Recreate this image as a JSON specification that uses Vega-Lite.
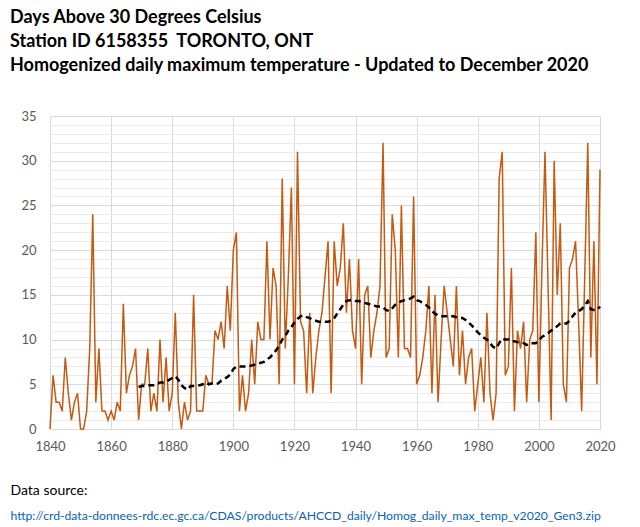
{
  "$schema": "https://vega.github.io/schema/vega-lite/v6.json",
  "width": 550,
  "height": 313,
  "autosize": {"type": "none"},
  "padding": {"left": 50, "top": 116, "right": 40, "bottom": 98},
  "background": "white",
  "config": {"view": {"stroke": "#d9d9d9"}, "font": "Lato"},
  "title": {
    "text": ["Days Above 30 Degrees Celsius", "Station ID 6158355\u00a0\u00a0TORONTO, ONT", "Homogenized daily maximum temperature - Updated to December 2020"],
    "anchor": "start",
    "frame": "group",
    "dx": -40,
    "offset": 35,
    "font": "Lato",
    "fontSize": 18,
    "fontWeight": "bold",
    "lineHeight": 24,
    "color": "#000000"
  },
  "data": {"values": [
    {"year": 1840, "days": 0, "ma": null}, {"year": 1841, "days": 6, "ma": null}, {"year": 1842, "days": 3, "ma": null}, {"year": 1843, "days": 3, "ma": null}, {"year": 1844, "days": 2, "ma": null},
    {"year": 1845, "days": 8, "ma": null}, {"year": 1846, "days": 4, "ma": null}, {"year": 1847, "days": 1, "ma": null}, {"year": 1848, "days": 3, "ma": null}, {"year": 1849, "days": 4, "ma": null},
    {"year": 1850, "days": 0, "ma": null}, {"year": 1851, "days": 0, "ma": null}, {"year": 1852, "days": 2, "ma": null}, {"year": 1853, "days": 9, "ma": null}, {"year": 1854, "days": 24, "ma": null},
    {"year": 1855, "days": 3, "ma": null}, {"year": 1856, "days": 9, "ma": null}, {"year": 1857, "days": 2, "ma": null}, {"year": 1858, "days": 2, "ma": null}, {"year": 1859, "days": 1, "ma": null},
    {"year": 1860, "days": 2, "ma": null}, {"year": 1861, "days": 1, "ma": null}, {"year": 1862, "days": 3, "ma": null}, {"year": 1863, "days": 2, "ma": null}, {"year": 1864, "days": 14, "ma": null},
    {"year": 1865, "days": 4, "ma": null}, {"year": 1866, "days": 6, "ma": null}, {"year": 1867, "days": 7, "ma": null}, {"year": 1868, "days": 9, "ma": null}, {"year": 1869, "days": 1, "ma": 4.7},
    {"year": 1870, "days": 5, "ma": 4.8}, {"year": 1871, "days": 5, "ma": 4.8}, {"year": 1872, "days": 9, "ma": 4.9}, {"year": 1873, "days": 2, "ma": 4.9}, {"year": 1874, "days": 4, "ma": 4.9},
    {"year": 1875, "days": 2, "ma": 5.0}, {"year": 1876, "days": 10, "ma": 5.2}, {"year": 1877, "days": 3, "ma": 5.2}, {"year": 1878, "days": 8, "ma": 5.3}, {"year": 1879, "days": 2, "ma": 5.5},
    {"year": 1880, "days": 4, "ma": 5.7}, {"year": 1881, "days": 13, "ma": 5.9}, {"year": 1882, "days": 3, "ma": 5.5}, {"year": 1883, "days": 0, "ma": 4.9}, {"year": 1884, "days": 3, "ma": 4.6},
    {"year": 1885, "days": 1, "ma": 4.4}, {"year": 1886, "days": 2, "ma": 4.8}, {"year": 1887, "days": 15, "ma": 4.8}, {"year": 1888, "days": 2, "ma": 4.8}, {"year": 1889, "days": 2, "ma": 4.9},
    {"year": 1890, "days": 2, "ma": 5.0}, {"year": 1891, "days": 6, "ma": 5.2}, {"year": 1892, "days": 5, "ma": 5.0}, {"year": 1893, "days": 5, "ma": 5.1}, {"year": 1894, "days": 11, "ma": 5.0},
    {"year": 1895, "days": 10, "ma": 5.1}, {"year": 1896, "days": 12, "ma": 5.4}, {"year": 1897, "days": 9, "ma": 5.6}, {"year": 1898, "days": 16, "ma": 5.8}, {"year": 1899, "days": 11, "ma": 6.1},
    {"year": 1900, "days": 20, "ma": 6.7}, {"year": 1901, "days": 22, "ma": 7.0}, {"year": 1902, "days": 2, "ma": 7.0}, {"year": 1903, "days": 6, "ma": 7.0}, {"year": 1904, "days": 2, "ma": 7.0},
    {"year": 1905, "days": 4, "ma": 7.0}, {"year": 1906, "days": 10, "ma": 7.1}, {"year": 1907, "days": 5, "ma": 7.2}, {"year": 1908, "days": 12, "ma": 7.3}, {"year": 1909, "days": 10, "ma": 7.4},
    {"year": 1910, "days": 10, "ma": 7.5}, {"year": 1911, "days": 21, "ma": 7.8}, {"year": 1912, "days": 10, "ma": 8.0}, {"year": 1913, "days": 18, "ma": 8.4}, {"year": 1914, "days": 16, "ma": 8.8},
    {"year": 1915, "days": 5, "ma": 9.3}, {"year": 1916, "days": 28, "ma": 10.0}, {"year": 1917, "days": 9, "ma": 10.4}, {"year": 1918, "days": 17, "ma": 11.0}, {"year": 1919, "days": 27, "ma": 11.4},
    {"year": 1920, "days": 5, "ma": 11.9}, {"year": 1921, "days": 31, "ma": 12.3}, {"year": 1922, "days": 12, "ma": 12.6}, {"year": 1923, "days": 11, "ma": 12.7}, {"year": 1924, "days": 4, "ma": 12.5},
    {"year": 1925, "days": 13, "ma": 12.4}, {"year": 1926, "days": 4, "ma": 12.2}, {"year": 1927, "days": 8, "ma": 12.1}, {"year": 1928, "days": 11, "ma": 12.0}, {"year": 1929, "days": 13, "ma": 12.0},
    {"year": 1930, "days": 17, "ma": 12.0}, {"year": 1931, "days": 21, "ma": 12.0}, {"year": 1932, "days": 4, "ma": 12.1}, {"year": 1933, "days": 21, "ma": 12.4}, {"year": 1934, "days": 16, "ma": 12.9},
    {"year": 1935, "days": 18, "ma": 13.4}, {"year": 1936, "days": 23, "ma": 13.9}, {"year": 1937, "days": 13, "ma": 14.3}, {"year": 1938, "days": 19, "ma": 14.4}, {"year": 1939, "days": 11, "ma": 14.4},
    {"year": 1940, "days": 9, "ma": 14.3}, {"year": 1941, "days": 19, "ma": 14.3}, {"year": 1942, "days": 5, "ma": 14.2}, {"year": 1943, "days": 15, "ma": 14.1}, {"year": 1944, "days": 16, "ma": 14.0},
    {"year": 1945, "days": 8, "ma": 13.9}, {"year": 1946, "days": 11, "ma": 13.8}, {"year": 1947, "days": 13, "ma": 13.7}, {"year": 1948, "days": 16, "ma": 13.7}, {"year": 1949, "days": 32, "ma": 13.6},
    {"year": 1950, "days": 8, "ma": 13.3}, {"year": 1951, "days": 9, "ma": 13.2}, {"year": 1952, "days": 24, "ma": 13.5}, {"year": 1953, "days": 20, "ma": 13.9}, {"year": 1954, "days": 8, "ma": 14.1},
    {"year": 1955, "days": 25, "ma": 14.3}, {"year": 1956, "days": 9, "ma": 14.4}, {"year": 1957, "days": 9, "ma": 14.5}, {"year": 1958, "days": 8, "ma": 14.6}, {"year": 1959, "days": 26, "ma": 14.8},
    {"year": 1960, "days": 5, "ma": 14.4}, {"year": 1961, "days": 6, "ma": 14.3}, {"year": 1962, "days": 8, "ma": 14.1}, {"year": 1963, "days": 11, "ma": 13.9}, {"year": 1964, "days": 16, "ma": 13.6},
    {"year": 1965, "days": 4, "ma": 13.2}, {"year": 1966, "days": 15, "ma": 12.9}, {"year": 1967, "days": 3, "ma": 12.7}, {"year": 1968, "days": 10, "ma": 12.6}, {"year": 1969, "days": 16, "ma": 12.6},
    {"year": 1970, "days": 13, "ma": 12.6}, {"year": 1971, "days": 10, "ma": 12.6}, {"year": 1972, "days": 7, "ma": 12.6}, {"year": 1973, "days": 16, "ma": 12.5}, {"year": 1974, "days": 6, "ma": 12.4},
    {"year": 1975, "days": 11, "ma": 12.4}, {"year": 1976, "days": 5, "ma": 12.2}, {"year": 1977, "days": 8, "ma": 11.9}, {"year": 1978, "days": 9, "ma": 11.6}, {"year": 1979, "days": 2, "ma": 11.2},
    {"year": 1980, "days": 5, "ma": 10.8}, {"year": 1981, "days": 8, "ma": 10.5}, {"year": 1982, "days": 3, "ma": 10.2}, {"year": 1983, "days": 13, "ma": 10.0}, {"year": 1984, "days": 4, "ma": 9.6},
    {"year": 1985, "days": 1, "ma": 9.2}, {"year": 1986, "days": 4, "ma": 9.0}, {"year": 1987, "days": 28, "ma": 9.6}, {"year": 1988, "days": 31, "ma": 10.1}, {"year": 1989, "days": 6, "ma": 10.0},
    {"year": 1990, "days": 7, "ma": 10.0}, {"year": 1991, "days": 18, "ma": 9.8}, {"year": 1992, "days": 2, "ma": 9.8}, {"year": 1993, "days": 11, "ma": 9.7}, {"year": 1994, "days": 9, "ma": 9.7},
    {"year": 1995, "days": 12, "ma": 9.6}, {"year": 1996, "days": 3, "ma": 9.4}, {"year": 1997, "days": 10, "ma": 9.6}, {"year": 1998, "days": 11, "ma": 9.6}, {"year": 1999, "days": 22, "ma": 9.6},
    {"year": 2000, "days": 3, "ma": 9.9}, {"year": 2001, "days": 18, "ma": 10.3}, {"year": 2002, "days": 31, "ma": 10.5}, {"year": 2003, "days": 16, "ma": 10.7}, {"year": 2004, "days": 1, "ma": 11.0},
    {"year": 2005, "days": 30, "ma": 11.2}, {"year": 2006, "days": 15, "ma": 11.5}, {"year": 2007, "days": 23, "ma": 11.8}, {"year": 2008, "days": 5, "ma": 11.8}, {"year": 2009, "days": 3, "ma": 11.8},
    {"year": 2010, "days": 18, "ma": 12.1}, {"year": 2011, "days": 19, "ma": 12.6}, {"year": 2012, "days": 21, "ma": 13.0}, {"year": 2013, "days": 12, "ma": 13.2}, {"year": 2014, "days": 2, "ma": 13.4},
    {"year": 2015, "days": 17, "ma": 13.8}, {"year": 2016, "days": 32, "ma": 14.3}, {"year": 2017, "days": 8, "ma": 13.4}, {"year": 2018, "days": 21, "ma": 13.3}, {"year": 2019, "days": 5, "ma": 13.3},
    {"year": 2020, "days": 29, "ma": 13.7}
  ]},
  "resolve": {"axis": {"y": "independent"}},
  "layer": [
    {
      "mark": {"type": "line", "color": "#C55A11", "strokeWidth": 1.5},
      "encoding": {
        "x": {
          "field": "year", "type": "quantitative",
          "scale": {"domain": [1840, 2020], "nice": false, "zero": false},
          "axis": {
            "values": [1840, 1860, 1880, 1900, 1920, 1940, 1960, 1980, 2000, 2020],
            "format": "d",
            "labelFlush": false,
            "grid": true, "gridColor": "#d9d9d9",
            "domain": true, "domainColor": "#d9d9d9",
            "ticks": false,
            "labelFont": "Lato", "labelFontSize": 13, "labelColor": "#595959", "labelPadding": 11,
            "title": "Data source:",
            "titleX": -40, "titleY": 65, "titleAlign": "left", "titleAnchor": "start", "titleBaseline": "alphabetic",
            "titleFont": "Lato", "titleFontSize": 14, "titleFontWeight": "normal", "titleColor": "#000000"
          }
        },
        "y": {
          "field": "days", "type": "quantitative",
          "scale": {"domain": [0, 35], "nice": false},
          "axis": {
            "orient": "left",
            "values": [1, 2, 3, 4, 6, 7, 8, 9, 11, 12, 13, 14, 16, 17, 18, 19, 21, 22, 23, 24, 26, 27, 28, 29, 31, 32, 33, 34],
            "grid": true, "gridColor": "#ebebeb",
            "labels": false, "ticks": false, "domain": false, "title": null
          }
        }
      }
    },
    {
      "transform": [{"filter": "datum.ma != null"}],
      "mark": {"type": "line", "color": "#000000", "strokeWidth": 2.5, "strokeDash": [6, 4]},
      "encoding": {
        "x": {"field": "year", "type": "quantitative"},
        "y": {
          "field": "ma", "type": "quantitative",
          "scale": {"domain": [0, 35], "nice": false},
          "axis": {
            "orient": "left",
            "values": [0, 5, 10, 15, 20, 25, 30, 35],
            "grid": true, "gridColor": "#d9d9d9",
            "ticks": false, "domain": false,
            "labelFont": "Lato", "labelFontSize": 13, "labelColor": "#595959", "labelPadding": 14,
            "title": "http://crd-data-donnees-rdc.ec.gc.ca/CDAS/products/AHCCD_daily/Homog_daily_max_temp_v2020_Gen3.zip",
            "titleAngle": 0, "titleX": -40, "titleY": 403, "titleAlign": "left", "titleBaseline": "alphabetic",
            "titleFont": "Lato", "titleFontSize": 12.2, "titleFontWeight": "normal", "titleColor": "#0563C1"
          }
        }
      }
    }
  ]
}
